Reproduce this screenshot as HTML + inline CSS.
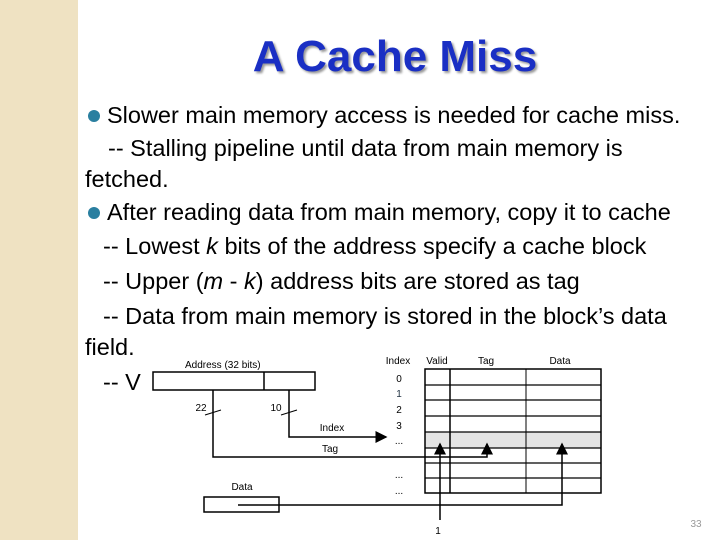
<!DOCTYPE html><html><head><style>
body{margin:0;width:720px;height:540px;overflow:hidden;background:#fff;position:relative;font-family:"Liberation Sans",sans-serif}
.strip{position:absolute;left:0;top:0;width:78px;height:540px;background:#efe2c2}
.t{position:absolute;white-space:nowrap;font-size:23.5px;color:#000;line-height:26px}
h1{position:absolute;left:0;width:790px;text-align:center;top:32px;margin:0;font-size:44px;color:#1a2fc4;text-shadow:2px 2px 2px #999}
.b{display:inline-block;width:12px;height:12px;border-radius:50%;background:#2a7fa0;margin-right:7px;vertical-align:1px}
</style></head><body>
<div class="strip"></div>
<h1>A Cache Miss</h1>
<div class="t" style="left:88px;top:102px"><span class="b"></span>Slower main memory access is needed for cache miss.</div>
<div class="t" style="left:108px;top:135px">-- Stalling pipeline until data from main memory is</div>
<div class="t" style="left:85px;top:166px">fetched.</div>
<div class="t" style="left:88px;top:199px"><span class="b"></span>After reading data from main memory, copy it to cache</div>
<div class="t" style="left:103px;top:233px">-- Lowest <i>k</i> bits of the address specify a cache block</div>
<div class="t" style="left:103px;top:268px">-- Upper (<i>m</i> - <i>k</i>) address bits are stored as tag</div>
<div class="t" style="left:103px;top:303px">-- Data from main memory is stored in the block’s data</div>
<div class="t" style="left:85px;top:334px">field.</div>
<div class="t" style="left:103px;top:369px">-- V</div>
<svg width="720" height="540" style="position:absolute;left:0;top:0" font-family="Liberation Sans" font-size="10">
<defs><marker id="a" markerWidth="8" markerHeight="8" refX="7" refY="4" orient="auto"><path d="M0,0L8,4L0,8z"/></marker></defs>
<rect x="150" y="356" width="170" height="14" fill="#fff"/>
<rect x="153" y="372" width="162" height="18" fill="#fff" stroke="#000" stroke-width="1.5"/>
<line x1="264" y1="372" x2="264" y2="390" stroke="#000" stroke-width="1.5"/>
<text x="185" y="368" font-size="10">Address (32 bits)</text>
<rect x="425" y="432" width="176" height="16" fill="#e4e4e4"/>
<g stroke="#000" stroke-width="1.5" fill="none">
<rect x="425" y="369" width="176" height="124"/>
<line x1="450" y1="369" x2="450" y2="493"/>
<line x1="526" y1="369" x2="526" y2="493" stroke-width="1"/>
<path d="M425 385H601M425 400H601M425 416H601M425 432H601M425 448H601M425 463H601M425 478H601" stroke-width="1.2"/>
<path d="M213 390V457H487V444" marker-end="url(#a)"/>
<path d="M289 390V437H386" marker-end="url(#a)"/>
<path d="M238 505H562V444" marker-end="url(#a)"/>
<path d="M440 520V444" marker-end="url(#a)"/>
<path d="M205 415L221 410M281 415L297 410" stroke-width="1"/>
<rect x="204" y="497" width="75" height="15" fill="none"/>
</g>
<g text-anchor="middle">
<text x="398" y="364">Index</text><text x="437" y="364">Valid</text><text x="486" y="364">Tag</text><text x="560" y="364">Data</text>
<text x="399" y="382">0</text><text x="399" y="397" fill="#234">1</text><text x="399" y="413">2</text><text x="399" y="429">3</text>
<text x="399" y="444">...</text><text x="399" y="478">...</text><text x="399" y="494">...</text>
<text x="201" y="411">22</text><text x="276" y="411">10</text>
<text x="332" y="431">Index</text><text x="330" y="452">Tag</text><text x="242" y="490">Data</text>
<text x="438" y="534">1</text>
<text x="696" y="527" fill="#999">33</text>
</g>
</svg>
</body></html>
